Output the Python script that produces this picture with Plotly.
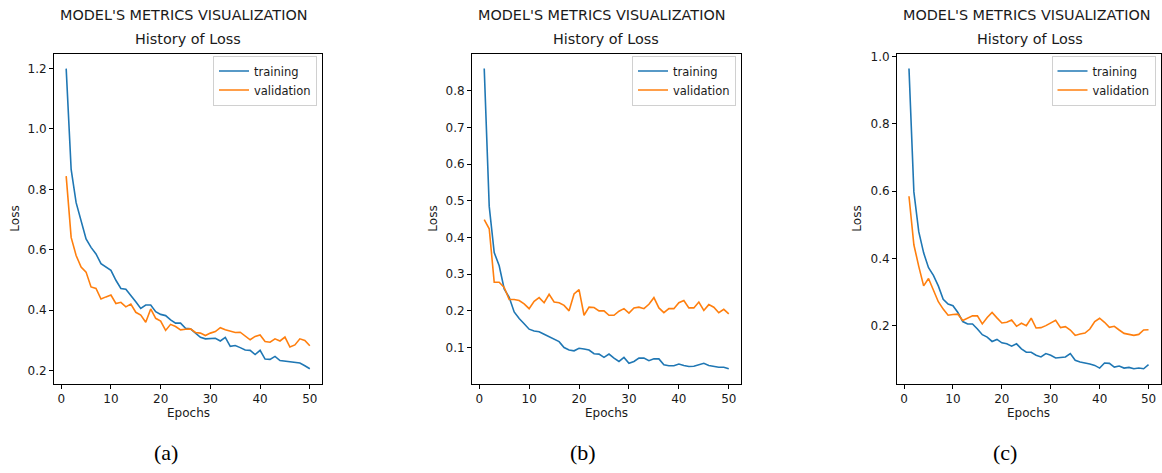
import plotly.graph_objects as go

epochs = list(range(1, 51))

train_a = [1.20, 0.866, 0.756, 0.696, 0.636, 0.608, 0.586, 0.554, 0.543, 0.532,
           0.499, 0.472, 0.469, 0.450, 0.428, 0.406, 0.417, 0.417, 0.395, 0.386,
           0.382, 0.368, 0.357, 0.357, 0.340, 0.338, 0.324, 0.310, 0.305, 0.306,
           0.307, 0.298, 0.310, 0.280, 0.283, 0.276, 0.268, 0.267, 0.253, 0.267,
           0.238, 0.237, 0.247, 0.233, 0.231, 0.231, 0.229, 0.225, 0.216, 0.206]
val_a = [0.844, 0.641, 0.581, 0.543, 0.526, 0.477, 0.472, 0.437, 0.444, 0.450,
         0.422, 0.426, 0.411, 0.420, 0.393, 0.384, 0.360, 0.404, 0.373, 0.364,
         0.333, 0.353, 0.346, 0.335, 0.337, 0.338, 0.326, 0.324, 0.316, 0.324,
         0.329, 0.342, 0.335, 0.331, 0.326, 0.327, 0.313, 0.302, 0.313, 0.318,
         0.296, 0.294, 0.305, 0.298, 0.311, 0.278, 0.285, 0.305, 0.300, 0.282]

train_b = [0.861, 0.485, 0.359, 0.323, 0.260, 0.237, 0.197, 0.179, 0.165, 0.150,
           0.145, 0.143, 0.136, 0.129, 0.123, 0.116, 0.100, 0.093, 0.091, 0.098,
           0.096, 0.093, 0.083, 0.082, 0.073, 0.082, 0.071, 0.062, 0.073, 0.057,
           0.062, 0.071, 0.071, 0.064, 0.069, 0.069, 0.053, 0.050, 0.050, 0.055,
           0.051, 0.048, 0.049, 0.053, 0.057, 0.051, 0.048, 0.046, 0.046, 0.042]
val_b = [0.449, 0.424, 0.278, 0.278, 0.264, 0.231, 0.231, 0.228, 0.219, 0.206,
         0.226, 0.236, 0.222, 0.245, 0.224, 0.222, 0.215, 0.200, 0.246, 0.258,
         0.188, 0.210, 0.209, 0.200, 0.200, 0.188, 0.188, 0.199, 0.206, 0.194,
         0.208, 0.210, 0.206, 0.218, 0.236, 0.208, 0.195, 0.206, 0.206, 0.222,
         0.228, 0.208, 0.208, 0.224, 0.201, 0.217, 0.210, 0.195, 0.204, 0.192]

train_c = [0.964, 0.598, 0.480, 0.417, 0.373, 0.350, 0.319, 0.279, 0.265, 0.260,
           0.240, 0.213, 0.206, 0.206, 0.191, 0.174, 0.167, 0.154, 0.160, 0.150,
           0.147, 0.140, 0.147, 0.132, 0.122, 0.122, 0.113, 0.108, 0.118, 0.113,
           0.105, 0.107, 0.108, 0.118, 0.098, 0.093, 0.091, 0.087, 0.083, 0.075,
           0.090, 0.089, 0.078, 0.081, 0.075, 0.077, 0.073, 0.075, 0.073, 0.085]
val_c = [0.585, 0.441, 0.377, 0.319, 0.341, 0.309, 0.272, 0.250, 0.232, 0.234,
         0.235, 0.216, 0.223, 0.230, 0.230, 0.206, 0.225, 0.240, 0.224, 0.209,
         0.211, 0.218, 0.199, 0.208, 0.201, 0.223, 0.194, 0.195, 0.201, 0.209,
         0.217, 0.195, 0.198, 0.188, 0.172, 0.176, 0.179, 0.191, 0.213, 0.223,
         0.211, 0.196, 0.199, 0.188, 0.178, 0.175, 0.172, 0.175, 0.188, 0.189]

x_ticks = [0, 10, 20, 30, 40, 50]
y_ticks_a = [0.2, 0.4, 0.6, 0.8, 1.0, 1.2]
y_ticks_b = [0.1, 0.2, 0.3, 0.4, 0.5, 0.6, 0.7, 0.8]
y_ticks_c = [0.2, 0.4, 0.6, 0.8, 1.0]

suptitle = "MODEL'S METRICS VISUALIZATION"
subtitle = "History of Loss"
x_label = "Epochs"
y_label = "Loss"
series_names = ["training", "validation"]
panel_labels = ["(a)", "(b)", "(c)"]

W, H = 1162, 473
BLUE, ORANGE = "#1f77b4", "#ff7f0e"
TXT = "#1a1a1a"
SANS = "DejaVu Sans"

panels = [
    dict(tr=train_a, va=val_a, yt=y_ticks_a, px0=54, px1=322, sup_cx=183.5, sub_cx=188,
         ylab_x=15, lab_cx=166),
    dict(tr=train_b, va=val_b, yt=y_ticks_b, px0=472, px1=741, sup_cx=601.5, sub_cx=606,
         ylab_x=433, lab_cx=583),
    dict(tr=train_c, va=val_c, yt=y_ticks_c, px0=897, px1=1160.5, sup_cx=1026, sub_cx=1030,
         ylab_x=857, lab_cx=1005),
]
PY0, PY1 = 50, 383  # top, bottom in pixels


def px(x):
    return x / W


def py(y):
    return 1 - y / H


fig = go.Figure()
annotations = []
layout = {}
for i, p in enumerate(panels):
    k = "" if i == 0 else str(i + 1)
    allv = p["tr"] + p["va"]
    lo, hi = min(allv), max(allv)
    m = 0.05 * (hi - lo)
    xm = 0.05 * (epochs[-1] - epochs[0])
    leg = "legend" + k
    fig.add_trace(go.Scatter(x=epochs, y=p["tr"], mode="lines", name=series_names[0],
                             line=dict(color=BLUE, width=1.6), xaxis="x" + k, yaxis="y" + k,
                             legend=leg))
    fig.add_trace(go.Scatter(x=epochs, y=p["va"], mode="lines", name=series_names[1],
                             line=dict(color=ORANGE, width=1.6), xaxis="x" + k, yaxis="y" + k,
                             legend=leg))
    common = dict(showline=True, mirror=True, linecolor="black", linewidth=1,
                  ticks="outside", ticklen=4, tickwidth=1, tickcolor="black",
                  showgrid=False, zeroline=False,
                  tickfont=dict(family=SANS, size=12, color=TXT))
    layout["xaxis" + k] = dict(domain=[px(p["px0"]), px(p["px1"])], anchor="y" + k,
                               range=[epochs[0] - xm, epochs[-1] + xm],
                               tickvals=x_ticks, ticktext=[str(t) for t in x_ticks], **common)
    layout["yaxis" + k] = dict(domain=[py(PY1), py(PY0)], anchor="x" + k,
                               range=[lo - m, hi + m],
                               tickvals=p["yt"], ticktext=[f"{t:.1f}" for t in p["yt"]], **common)
    layout[leg] = dict(x=px(p["px1"] - 5), y=py(PY0 + 2), xanchor="right", yanchor="top",
                       xref="paper", yref="paper",
                       bgcolor="rgba(255,255,255,0.85)", bordercolor="#d0d0d0", borderwidth=1,
                       font=dict(family=SANS, size=11.5, color=TXT), itemwidth=30,
                       tracegroupgap=0)
    cx = (p["px0"] + p["px1"]) / 2
    annotations += [
        dict(text=suptitle, x=px(p["sup_cx"]), y=py(11), xref="paper", yref="paper",
             xanchor="center", yanchor="middle", showarrow=False,
             font=dict(family=SANS, size=14.4, color=TXT)),
        dict(text=subtitle, x=px(p["sub_cx"]), y=py(35), xref="paper", yref="paper",
             xanchor="center", yanchor="middle", showarrow=False,
             font=dict(family=SANS, size=14.4, color=TXT)),
        dict(text=x_label, x=px(cx), y=py(412), xref="paper", yref="paper",
             xanchor="center", yanchor="middle", showarrow=False,
             font=dict(family=SANS, size=12, color=TXT)),
        dict(text=y_label, x=px(p["ylab_x"]), y=py((PY0 + PY1) / 2), xref="paper", yref="paper",
             xanchor="center", yanchor="middle", showarrow=False, textangle=-90,
             font=dict(family=SANS, size=12, color=TXT)),
        dict(text=panel_labels[i], x=px(p["lab_cx"]), y=py(452), xref="paper", yref="paper",
             xanchor="center", yanchor="middle", showarrow=False,
             font=dict(family="Liberation Serif", size=22, color="black")),
    ]

fig.update_layout(width=W, height=H, margin=dict(l=0, r=0, t=0, b=0),
                  paper_bgcolor="white", plot_bgcolor="white",
                  annotations=annotations, **layout)
fig.write_html("out.html", config={"displayModeBar": False},
               post_script="document.body.style.margin='0';document.body.style.padding='0';")
